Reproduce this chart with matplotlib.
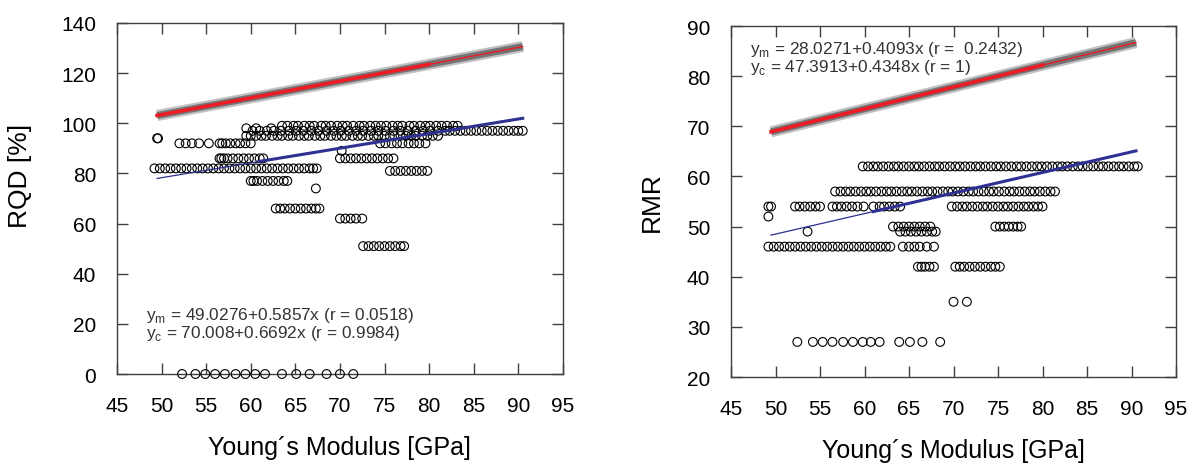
import matplotlib.pyplot as plt
import numpy as np

plt.rcParams['font.family'] = ['Liberation Sans', 'DejaVu Sans']
plt.rcParams['mathtext.fontset'] = 'custom'
plt.rcParams['mathtext.rm'] = 'Liberation Sans'

# ---- data ----
x_ticks = [45, 50, 55, 60, 65, 70, 75, 80, 85, 90, 95]

# fitted / calculated lines (x, y at the read-off points)
calc_x = [49.5, 80.0, 90.5]
rqd_calc = [103.1, 123.5, 130.6]
rmr_calc = [68.9, 82.2, 86.7]
mean_x = [49.5, 61.0, 90.5]
rqd_mean = [78.0, 84.8, 102.0]
rmr_mean = [48.3, 53.0, 65.1]

# measured RQD: one level per row of circles, with the moduli in that row
rqd_levels = [99, 98, 97, 95, 94, 92, 89, 86, 82, 81, 77, 74, 66, 62, 51, 0]
rqd_x = [
    [63.5, 64.1, 64.8, 65.3, 66.0, 66.6, 67.1, 67.9, 68.4, 69.0, 69.7, 70.3, 70.8, 71.5,
     72.2, 72.7, 73.4, 74.0, 74.6, 75.2, 75.9, 76.5, 77.0, 77.8, 78.3, 79.0, 79.6, 80.1,
     80.8, 81.4, 82.0, 82.7, 83.2],
    [59.5, 60.6, 62.3],
    [60.2, 61.0, 61.8, 62.6, 63.4, 64.3, 65.1, 65.9, 66.8, 67.6, 68.5, 69.3, 70.1, 71.0,
     71.8, 72.6, 73.5, 74.3, 75.1, 76.0, 76.8, 77.6, 78.5, 79.3, 80.1, 81.0, 81.8, 82.3,
     82.9, 83.5, 84.1, 84.7, 85.3, 85.9, 86.5, 87.1, 87.7, 88.3, 88.9, 89.5, 90.0, 90.5],
    [59.5, 60.0, 60.6, 61.2, 61.7, 62.4, 63.0, 63.5, 64.2, 64.7, 65.4, 66.0, 66.5, 67.2,
     67.8, 68.3, 69.0, 69.6, 70.2, 70.7, 71.4, 72.0, 72.5, 73.2, 73.8, 74.3, 75.0, 75.6,
     76.1, 76.8, 77.4, 78.0, 78.5, 79.2, 79.8, 80.4, 81.0],
    [49.5, 49.6],
    [52.0, 52.7, 53.4, 54.2, 55.3, 56.5, 56.8, 57.2, 57.7, 58.3, 58.8, 59.4, 60.0,
     74.5, 75.1, 75.8, 76.4, 77.0, 77.7, 78.3, 78.9, 79.6],
    [70.2],
    [56.5, 56.7, 57.0, 57.4, 58.0, 58.6, 59.2, 59.8, 60.4, 61.0, 61.4,
     70.0, 70.6, 71.2, 71.8, 72.4, 73.0, 73.6, 74.2, 74.8, 75.4, 76.0],
    [49.2, 49.8, 50.4, 51.0, 51.6, 52.2, 52.8, 53.4, 54.0, 54.6, 55.2, 55.8, 56.4, 57.0,
     57.6, 58.2, 58.8, 59.4, 60.0, 60.6, 61.2, 61.8, 62.4, 63.0, 63.6, 64.2, 64.8, 65.4,
     66.0, 66.6, 67.0, 67.4],
    [75.6, 76.2, 76.8, 77.4, 78.0, 78.6, 79.2, 79.8],
    [60.0, 60.3, 60.7, 61.3, 61.9, 62.5, 63.1, 63.7, 64.1],
    [67.3],
    [62.8, 63.3, 63.8, 64.4, 65.0, 65.6, 66.2, 66.8, 67.3, 67.7],
    [70.0, 70.6, 71.2, 71.8, 72.5],
    [72.6, 73.2, 73.8, 74.4, 75.0, 75.6, 76.2, 76.8, 77.2],
    [52.3, 53.8, 54.9, 56.0, 57.1, 58.3, 59.4, 60.5, 61.6, 63.5, 65.1, 66.6, 68.5, 70.0, 71.5],
]

# measured RMR
rmr_levels = [62, 57, 54, 52, 50, 49, 46, 42, 35, 27]
rmr_x = [
    [59.8, 60.4, 61.0, 61.5, 62.1, 62.7, 63.3, 63.8, 64.4, 65.0, 65.6, 66.1, 66.7, 67.3,
     67.9, 68.4, 69.0, 69.6, 70.2, 70.7, 71.3, 71.9, 72.5, 73.0, 73.6, 74.2, 74.8, 75.3,
     75.9, 76.5, 77.1, 77.6, 78.2, 78.8, 79.4, 79.9, 80.5, 81.1, 81.7, 82.2, 82.8, 83.4,
     84.0, 84.5, 85.1, 85.7, 86.3, 86.8, 87.4, 88.0, 88.6, 89.1, 89.7, 90.3, 90.7],
    [56.7, 57.3, 57.9, 58.4, 59.0, 59.6, 60.2, 60.7, 61.3, 61.9, 62.5, 63.0, 63.6, 64.2,
     64.8, 65.3, 65.9, 66.5, 67.1, 67.6, 68.2, 68.8, 69.4, 69.9, 70.5, 71.1, 71.7, 72.2,
     72.8, 73.4, 74.0, 74.5, 75.1, 75.7, 76.3, 76.8, 77.4, 78.0, 78.6, 79.1, 79.7, 80.3,
     80.9, 81.4],
    [49.2, 49.5, 52.2, 52.7, 53.3, 53.9, 54.5, 55.0, 56.4, 56.9, 57.4, 58.0, 58.6, 59.2,
     59.9, 61.0, 61.7, 62.2, 62.8, 63.4, 64.0, 69.8, 70.4, 71.0, 71.5, 72.1, 72.7, 73.3,
     73.8, 74.4, 75.0, 75.6, 76.1, 76.7, 77.3, 77.9, 78.4, 79.0, 79.5, 80.0],
    [49.2],
    [63.2, 63.8, 64.4, 65.0, 65.6, 66.2, 66.8, 67.4, 74.7, 75.2, 75.7, 76.2, 76.7, 77.2, 77.6],
    [53.6, 64.0, 64.6, 65.2, 65.8, 66.4, 67.0, 67.6, 68.0],
    [49.2, 49.8, 50.4, 51.0, 51.6, 52.2, 52.8, 53.4, 54.0, 54.6, 55.2, 55.8, 56.4, 57.0,
     57.6, 58.2, 58.8, 59.4, 60.0, 60.6, 61.2, 61.8, 62.4, 62.9, 64.3, 65.0, 65.6, 66.2,
     67.0, 67.8],
    [66.0, 66.4, 66.8, 67.3, 67.8, 70.2, 70.7, 71.2, 71.8, 72.4, 73.0, 73.6, 74.2, 74.7, 75.2],
    [70.0, 71.5],
    [52.45, 54.2, 55.3, 56.4, 57.6, 58.7, 59.8, 60.7, 61.7, 63.9, 65.1, 66.5, 68.5],
]

rqd_text = ['y$_\\mathregular{m}$ = 49.0276+0.5857x (r = 0.0518)',
            'y$_\\mathregular{c}$ = 70.008+0.6692x (r = 0.9984)']
rmr_text = ['y$_\\mathregular{m}$ = 28.0271+0.4093x (r =  0.2432)',
            'y$_\\mathregular{c}$ = 47.3913+0.4348x (r = 1)']

RED = '#ed1c24'
BLUE = '#2e3192'
GRAY = '#858585'
AXC = '#404040'


def draw_panel(ax, levels, xrows, calc_y, mean_y, ylim, yticks, ylabel, ylabel_pos,
               texts, text_xy):
    xs, ys = [], []
    for lev, row in zip(levels, xrows):
        xs.extend(row)
        ys.extend([lev] * len(row))
    ax.scatter(xs, ys, s=40, facecolors='none', edgecolors='black',
               linewidths=0.8, zorder=3, clip_on=False)

    # calculated values (gray star band) with red fit on top
    ax.plot(calc_x, calc_y, color=GRAY, lw=8, alpha=0.5, solid_capstyle='butt', zorder=4)
    ax.plot(calc_x, calc_y, color='#747474', lw=5, solid_capstyle='butt', zorder=4)
    ax.plot(calc_x[:2], calc_y[:2], color=RED, lw=2.6, zorder=5)
    ax.plot(calc_x[1:], calc_y[1:], color=RED, lw=1.0, zorder=5)

    # mean fit
    ax.plot(mean_x[:2], mean_y[:2], color=BLUE, lw=0.9, zorder=5)
    ax.plot(mean_x[1:], mean_y[1:], color=BLUE, lw=2.2, zorder=5)

    ax.set_xlim(45, 95)
    ax.set_ylim(*ylim)
    ax.set_xticks(x_ticks)
    ax.set_yticks(yticks)
    ax.tick_params(direction='in', length=8, width=1, color=AXC,
                   top=True, right=True, labelsize=15)
    ax.tick_params(axis='x', pad=16)
    ax.tick_params(axis='y', pad=15)
    for sp in ax.spines.values():
        sp.set_color(AXC)
        sp.set_linewidth(1)
    ax.set_xlabel('Young´s Modulus [GPa]', fontsize=18, labelpad=14)
    ax.set_ylabel(ylabel, fontsize=19)
    ax.yaxis.set_label_coords(ylabel_pos[0], ylabel_pos[1])

    (tx, ty1, ty2) = text_xy
    ax.text(tx, ty1, texts[0], fontsize=12.4, color='#333333', va='baseline', zorder=6)
    ax.text(tx, ty2, texts[1], fontsize=12.4, color='#333333', va='baseline', zorder=6)


fig = plt.figure(figsize=(11.89, 4.64), dpi=100)
ax1 = fig.add_axes([0.0984, 0.1918, 0.375, 0.7565])
ax2 = fig.add_axes([0.6148, 0.1853, 0.3743, 0.7565])

draw_panel(ax1, rqd_levels, rqd_x, rqd_calc, rqd_mean, (0, 140),
           [0, 20, 40, 60, 80, 100, 120, 140], 'RQD [%]', (-0.19, 0.567),
           rqd_text, (48.2, 21.8, 14.6))
draw_panel(ax2, rmr_levels, rmr_x, rmr_calc, rmr_mean, (20, 90),
           [20, 30, 40, 50, 60, 70, 80, 90], 'RMR', (-0.15, 0.5),
           rmr_text, (47.1, 84.6, 81.0))

fig.savefig('out.png', dpi=100)
